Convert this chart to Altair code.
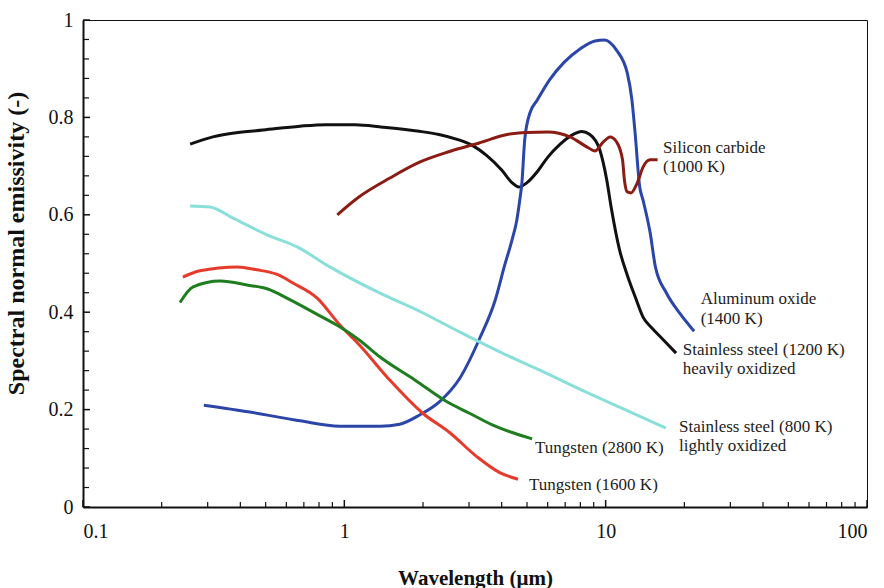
import altair as alt
import pandas as pd

# ---------------- data ----------------
series_names = [
    "Stainless steel (1200 K)",
    "Aluminum oxide (1400 K)",
    "Silicon carbide (1000 K)",
    "Stainless steel (800 K)",
    "Tungsten (1600 K)",
    "Tungsten (2800 K)",
]
series_colors = ["#111111", "#2b45a8", "#8b1c14", "#8adfd9", "#e63b2b", "#1e7d1e"]

ss1200_lam = [0.257, 0.314, 0.38, 0.489, 0.677, 0.85, 1.1, 1.4, 1.9, 2.3, 2.7, 3.1, 3.5, 4.0, 4.4,
              4.65, 5.0, 5.5, 6.0, 6.7, 7.4, 8.1, 8.7, 9.5, 10.1, 10.5, 11.3, 12.1, 13.0, 13.9,
              15.0, 16.5, 18.6]
ss1200_eps = [0.745, 0.760, 0.768, 0.774, 0.782, 0.785, 0.785, 0.780, 0.772, 0.765, 0.755, 0.742,
              0.722, 0.692, 0.665, 0.657, 0.666, 0.690, 0.718, 0.745, 0.763, 0.771, 0.765, 0.733,
              0.671, 0.615, 0.528, 0.476, 0.430, 0.390, 0.368, 0.345, 0.316]

al2o3_lam = [0.29, 0.435, 0.676, 0.96, 1.37, 1.63, 1.94, 2.31, 2.77, 3.3, 3.78, 4.11, 4.38, 4.57,
             4.69, 4.78, 4.9, 5.13, 5.48, 6.1, 6.96, 7.95, 9.1, 9.9, 11.0, 12.1, 12.6, 12.96, 13.5,
             13.9, 14.8, 15.5, 17.1, 19.2, 21.8]
al2o3_eps = [0.209, 0.195, 0.177, 0.166, 0.166, 0.170, 0.189, 0.216, 0.265, 0.347, 0.425, 0.497,
             0.548, 0.589, 0.630, 0.665, 0.754, 0.809, 0.836, 0.877, 0.914, 0.940, 0.957, 0.959,
             0.938, 0.891, 0.836, 0.768, 0.657, 0.630, 0.563, 0.493, 0.439, 0.398, 0.361]

sic_lam = [0.94, 1.14, 1.5, 1.94, 2.53, 3.3, 4.2, 5.0, 6.0, 7.3, 8.5, 9.1, 9.7, 10.4, 11.0, 11.6,
           11.8, 12.1, 12.5, 13.2, 13.9, 14.8, 15.8]
sic_eps = [0.600, 0.637, 0.676, 0.708, 0.730, 0.748, 0.765, 0.769, 0.770, 0.760, 0.739, 0.731,
           0.747, 0.760, 0.750, 0.713, 0.671, 0.647, 0.645, 0.665, 0.698, 0.713, 0.713]

ss800_lam = [0.257, 0.306, 0.375, 0.506, 0.66, 0.88, 1.37, 1.94, 2.77, 3.95, 5.6, 7.95, 11.3, 17.0]
ss800_eps = [0.618, 0.616, 0.593, 0.559, 0.534, 0.493, 0.439, 0.402, 0.359, 0.318, 0.281, 0.242,
             0.205, 0.162]

w1600_lam = [0.241, 0.28, 0.39, 0.463, 0.55, 0.636, 0.787, 0.96, 1.14, 1.49, 1.99, 2.54, 3.22,
             3.95, 4.62]
w1600_eps = [0.472, 0.485, 0.493, 0.487, 0.478, 0.460, 0.429, 0.374, 0.333, 0.261, 0.193, 0.152,
             0.103, 0.070, 0.057]

w2800_lam = [0.235, 0.264, 0.335, 0.424, 0.52, 0.603, 0.81, 0.96, 1.14, 1.37, 1.86, 2.47, 3.0,
             3.7, 5.23]
w2800_eps = [0.420, 0.452, 0.464, 0.456, 0.446, 0.429, 0.392, 0.370, 0.343, 0.308, 0.261, 0.216,
             0.193, 0.168, 0.140]

# annotation lines
label_text = ["Silicon carbide", "(1000 K)", "Aluminum oxide", "(1400 K)",
              "Stainless steel (1200 K)", "heavily oxidized",
              "Stainless steel (800 K)", "lightly oxidized",
              "Tungsten (2800 K)", "Tungsten (1600 K)"]
label_lam = [16.57, 16.57, 23.1, 23.1, 19.72, 19.72, 19.08, 19.08, 5.365, 5.09]
label_eps = [0.727, 0.688, 0.417, 0.376, 0.312, 0.273, 0.154, 0.115, 0.111, 0.035]

# axis ticks
x_major = [0.1, 1, 10, 100]
x_minor = [0.2, 0.3, 0.4, 0.5, 0.6, 0.7, 0.8, 0.9, 2, 3, 4, 5, 6, 7, 8, 9,
           20, 30, 40, 50, 60, 70, 80, 90]
y_major = [0, 0.2, 0.4, 0.6, 0.8, 1.0]
y_minor = [0.04, 0.08, 0.12, 0.16, 0.24, 0.28, 0.32, 0.36, 0.44, 0.48, 0.52, 0.56,
           0.64, 0.68, 0.72, 0.76, 0.84, 0.88, 0.92, 0.96]

# ---------------- build table ----------------
rows = []
for name, lam, eps in zip(series_names,
                          [ss1200_lam, al2o3_lam, sic_lam, ss800_lam, w1600_lam, w2800_lam],
                          [ss1200_eps, al2o3_eps, sic_eps, ss800_eps, w1600_eps, w2800_eps]):
    for i, (l, e) in enumerate(zip(lam, eps)):
        rows.append({"series": name, "lam": l, "eps": e, "idx": i})
df = pd.DataFrame(rows)

W, H = 784, 487
FONT = "Liberation Serif"

xscale = alt.Scale(type="log", domain=[0.1, 100], nice=False)
yscale = alt.Scale(domain=[0, 1], nice=False)

xaxis = alt.Axis(values=x_major, format="~g", ticks=False, tickSize=0, grid=False,
                 labelFont=FONT, labelFontSize=20, labelPadding=14, labelColor="#111",
                 domainColor="#111", domainWidth=2,
                 title="Wavelength (μm)", titleFont=FONT, titleFontSize=21,
                 titleFontWeight="bold", titleColor="#111",
                 titleX=W / 2, titleY=77, titleBaseline="alphabetic", titleAlign="center")
yaxis = alt.Axis(values=y_major, format="~g", ticks=False, tickSize=0, grid=False,
                 labelFont=FONT, labelFontSize=20, labelPadding=10, labelColor="#111",
                 domainColor="#111", domainWidth=2,
                 title="Spectral normal emissivity (-)", titleFont=FONT,
                 titleFontSize=24, titleFontWeight="bold", titleColor="#111",
                 titleX=-67, titleY=223, titleAngle=270, titleAlign="center",
                 titleBaseline="middle")

lines = alt.Chart(df).mark_line(strokeWidth=3, interpolate="monotone").encode(
    x=alt.X("lam:Q", scale=xscale, axis=xaxis),
    y=alt.Y("eps:Q", scale=yscale, axis=yaxis),
    color=alt.Color("series:N", scale=alt.Scale(domain=series_names, range=series_colors),
                    legend=None),
    order=alt.Order("idx:Q"),
)

xmaj = alt.Chart(pd.DataFrame({"t": x_major})).mark_rule(color="#111", strokeWidth=1.5).encode(
    x=alt.X("t:Q", scale=xscale, axis=xaxis), y=alt.value(H), y2=alt.value(H - 7))
xmin = alt.Chart(pd.DataFrame({"t": x_minor})).mark_rule(color="#111", strokeWidth=1.2).encode(
    x=alt.X("t:Q", scale=xscale, axis=xaxis), y=alt.value(H), y2=alt.value(H - 5))
ymaj = alt.Chart(pd.DataFrame({"t": y_major})).mark_rule(color="#111", strokeWidth=1.5).encode(
    y=alt.Y("t:Q", scale=yscale, axis=yaxis), x=alt.value(0), x2=alt.value(7))
ymin = alt.Chart(pd.DataFrame({"t": y_minor})).mark_rule(color="#111", strokeWidth=1.2).encode(
    y=alt.Y("t:Q", scale=yscale, axis=yaxis), x=alt.value(0), x2=alt.value(6))

labels = alt.Chart(pd.DataFrame({"text": label_text, "lam": label_lam, "eps": label_eps})).mark_text(
    align="left", baseline="alphabetic", font=FONT, fontSize=17, color="#222").encode(
    x=alt.X("lam:Q", scale=xscale, axis=xaxis),
    y=alt.Y("eps:Q", scale=yscale, axis=yaxis),
    text="text:N")

chart = alt.layer(lines, xmaj, xmin, ymaj, ymin, labels).properties(
    width=W, height=H,
    padding={"left": 83, "top": 20, "right": 17, "bottom": 81},
    autosize=alt.AutoSizeParams(type="none"),
    background="white",
).configure_view(stroke="#111", strokeWidth=1)

chart.save("out.html", embed_options={"renderer": "svg", "actions": False})
